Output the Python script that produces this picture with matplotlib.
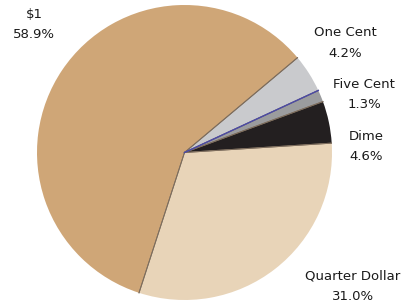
import numpy as np
import matplotlib
matplotlib.use('Agg')
from matplotlib import pyplot as plt

# coin share data
categories = ['One Cent', 'Five Cent', 'Dime', 'Quarter Dollar', '$1']
shares = [4.2, 1.3, 4.6, 31.0, 58.9]
colors = ['#c9cacd', '#9b9c9e', '#231f20', '#e8d4b8', '#cfa677']

# label positions in pixels (x, y of name line) for each category
label_pos = {'One Cent': (345, 32), 'Five Cent': (364, 84), 'Dime': (366, 136),
             'Quarter Dollar': (353, 276), '$1': (34, 14)}

W, H = 409, 305
fig = plt.figure(figsize=(W/100, H/100), dpi=100)
ax = fig.add_axes([37/W, 5/H, 295/W, 295/H])

wedges, _ = ax.pie(shares, colors=colors, startangle=40, counterclock=False,
                   radius=1, wedgeprops=dict(linewidth=0))
ax.set_xlim(-1, 1)
ax.set_ylim(-1, 1)
ax.set_aspect('equal')
ax.axis('off')

# thin radial separators, blue one between one cent and five cent
for i, w in enumerate(wedges):
    for th in (w.theta1, w.theta2):
        a = np.deg2rad(th)
        ax.plot([0, np.cos(a)], [0, np.sin(a)], color='#7d6d5d', lw=0.7, zorder=3)
common = set([round(wedges[0].theta1, 6), round(wedges[0].theta2, 6)]) & \
    set([round(wedges[1].theta1, 6), round(wedges[1].theta2, 6)])
a = np.deg2rad(list(common)[0])
ax.plot([0, np.cos(a)], [0, np.sin(a)], color='#4a4aa8', lw=1.0, zorder=4)

for cat, val in zip(categories, shares):
    x, y = label_pos[cat]
    fig.text(x/W, 1 - y/H, cat, ha='center', va='center', fontsize=9.5,
             color='#1a1a1a', family='DejaVu Sans')
    fig.text(x/W, 1 - (y + 21)/H, '{:.1f}%'.format(val), ha='center', va='center',
             fontsize=9.5, color='#1a1a1a', family='DejaVu Sans')

fig.savefig('out.png', dpi=100)
